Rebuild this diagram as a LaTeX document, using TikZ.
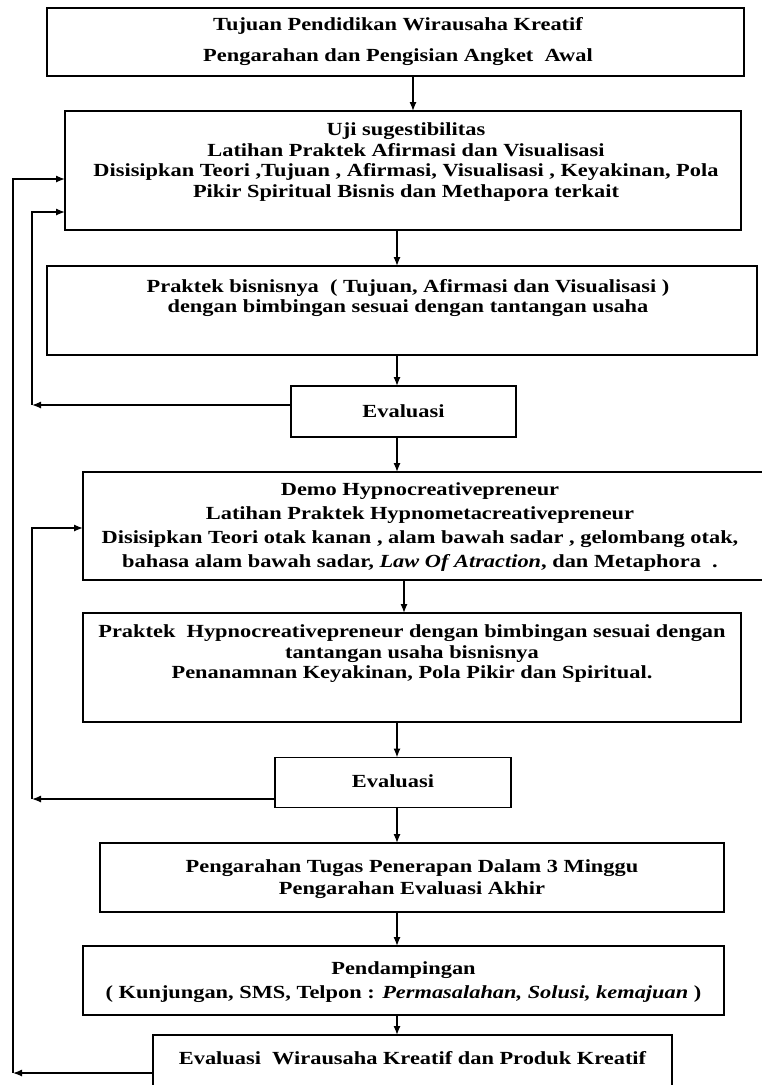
\documentclass[tikz,border=0pt]{standalone}
\usepackage{fontspec}
\setmainfont{Liberation Serif}[FakeStretch=1.21]
\usetikzlibrary{arrows.meta}
\begin{document}
\begin{tikzpicture}[x=1pt,y=-1pt,
  box/.style={draw,line width=1.6pt,rectangle,inner sep=0pt,outer sep=0pt},
  txt/.style={inner sep=0pt,align=center,font=\bfseries\fontsize{18.5}{20.5}\selectfont},
  arr/.style={line width=1.3pt,-{Latex[length=9pt,width=7pt]}},
  ln/.style={line width=1.3pt}]
\useasboundingbox (0,0) rectangle (762,1085);
\clip (0,0) rectangle (762,1085);
\fill[white] (0,0) rectangle (762,1085);
% boxes
\node[box,minimum width=697pt,minimum height=68pt] (b1) at (395.5,42) {};
\node[box,minimum width=676pt,minimum height=119pt] (b2) at (403,170.5) {};
\node[box,minimum width=710pt,minimum height=89pt] (b3) at (402,310.5) {};
\node[box,minimum width=225pt,minimum height=51pt] (ev1) at (403.5,411.5) {};
\node[box,minimum width=687pt,minimum height=108pt] (demo) at (426.5,526) {};
\node[box,minimum width=658pt,minimum height=109pt] (b5) at (412,667.5) {};
\node[box,minimum width=236pt,minimum height=50pt] (ev2) at (393,782.5) {};
\node[box,minimum width=624pt,minimum height=69pt] (b7) at (412,877.5) {};
\node[box,minimum width=641pt,minimum height=69pt] (b8) at (403.5,980.5) {};
\node[box,minimum width=519pt,minimum height=65pt] (b9) at (412.5,1067.5) {};
% texts
\node[txt,font=\bfseries\fontsize{18.5}{31}\selectfont] (t1) at (398,42) {Tujuan Pendidikan Wirausaha Kreatif\\Pengarahan dan Pengisian Angket\ \ Awal};
\node[txt] (t2) at (406,162) {Uji sugestibilitas\\Latihan Praktek Afirmasi dan Visualisasi\\Disisipkan Teori ,Tujuan , Afirmasi, Visualisasi , Keyakinan, Pola\\Pikir Spiritual Bisnis dan Methapora terkait};
\node[txt] (t3) at (408,298) {Praktek bisnisnya\ \ ( Tujuan, Afirmasi dan Visualisasi )\\dengan bimbingan sesuai dengan tantangan usaha};
\node[txt] (t4) at (403.5,411) {Evaluasi};
\node[txt,font=\bfseries\fontsize{18.5}{23.7}\selectfont] (t5) at (420,527) {Demo Hypnocreativepreneur\\Latihan Praktek Hypnometacreativepreneur\\Disisipkan Teori otak kanan , alam bawah sadar , gelombang otak,\\bahasa alam bawah sadar, \textit{Law Of Atraction}, dan Metaphora\ \ .};
\node[txt] (t6) at (412,654) {Praktek\ \ Hypnocreativepreneur dengan bimbingan sesuai dengan\\tantangan usaha bisnisnya\\Penanamnan Keyakinan, Pola Pikir dan Spiritual.};
\node[txt] (t7) at (393,781) {Evaluasi};
\node[txt,font=\bfseries\fontsize{18.5}{22}\selectfont] (t8) at (412,879) {Pengarahan Tugas Penerapan Dalam 3 Minggu\\Pengarahan Evaluasi Akhir};
\node[txt,font=\bfseries\fontsize{18.5}{24}\selectfont] (t9) at (403.5,982) {Pendampingan\\( Kunjungan, SMS, Telpon : \textit{Permasalahan, Solusi, kemajuan} )};
\node[txt] (t10) at (412.5,1058) {Evaluasi\ \ Wirausaha Kreatif dan Produk Kreatif};
% columns
\coordinate (xA) at (413,0);
\coordinate (xB) at (397,0);
\coordinate (xC) at (404,0);
% main flow
\draw[arr] (b1.south -| xA) -- (b2.north -| xA);
\draw[arr] (b2.south -| xB) -- (b3.north -| xB);
\draw[arr] (b3.south -| xB) -- (ev1.north -| xB);
\draw[arr] (ev1.south -| xB) -- (demo.north -| xB);
\draw[arr] (demo.south -| xC) -- (b5.north -| xC);
\draw[arr] (b5.south -| xB) -- (ev2.north -| xB);
\draw[arr] (ev2.south -| xB) -- (b7.north -| xB);
\draw[arr] (b7.south -| xB) -- (b8.north -| xB);
\draw[arr] (b8.south -| xB) -- (b9.north -| xB);
% feedback loops
\coordinate (c1) at (32,405);
\coordinate (y1) at (0,212);
\draw[arr] (ev1.west |- c1) -- (c1);
\draw[arr] (c1) -- (c1 |- y1) -- (b2.west |- y1);
\coordinate (c2) at (32,799);
\coordinate (y2) at (0,528);
\draw[arr] (ev2.west |- c2) -- (c2);
\draw[arr] (c2) -- (c2 |- y2) -- (demo.west |- y2);
\coordinate (c3) at (13,1073);
\coordinate (y3) at (0,179);
\draw[arr] (b9.west |- c3) -- (c3);
\draw[arr] (c3) -- (c3 |- y3) -- (b2.west |- y3);
\end{tikzpicture}
\end{document}
